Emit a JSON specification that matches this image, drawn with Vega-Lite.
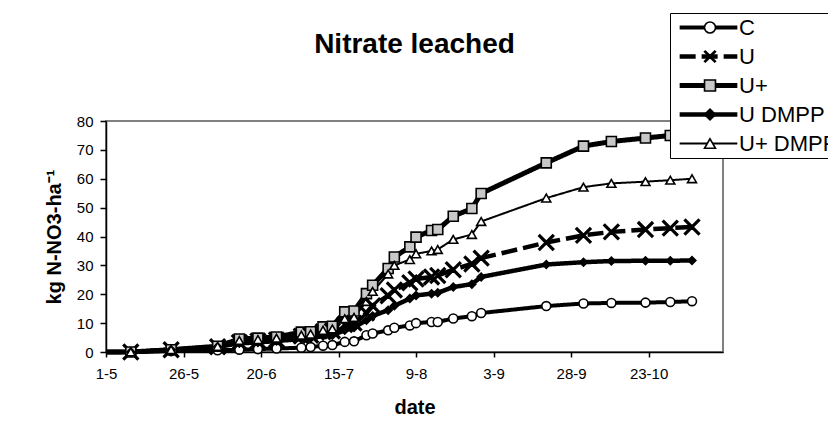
{
  "$schema": "https://vega.github.io/schema/vega-lite/v6.json",
  "width": 617,
  "height": 231,
  "autosize": {"type": "none"},
  "padding": {"left": 106, "top": 121, "right": 105, "bottom": 89},
  "background": "white",
  "title": {"text": "Nitrate leached", "fontSize": 28, "fontWeight": "bold", "frame": "group", "anchor": "middle", "offset": -46, "color": "black"},
  "data": {"values": [
    {"date": "2003-05-01", "C": 0, "U": 0, "U+": 0, "U DMPP": 0, "U+ DMPP": 0},
    {"date": "2003-05-09", "C": 0, "U": 0, "U+": 0, "U DMPP": 0, "U+ DMPP": 0},
    {"date": "2003-05-22", "C": 0.3, "U": 0.8, "U+": 0.8, "U DMPP": 0.8, "U+ DMPP": 0.8},
    {"date": "2003-06-06", "C": 0.6, "U": 1.8, "U+": 2.0, "U DMPP": 1.8, "U+ DMPP": 1.9},
    {"date": "2003-06-13", "C": 0.8, "U": 3.3, "U+": 4.5, "U DMPP": 3.0, "U+ DMPP": 4.0},
    {"date": "2003-06-19", "C": 1.0, "U": 3.8, "U+": 4.8, "U DMPP": 3.3, "U+ DMPP": 4.3},
    {"date": "2003-06-25", "C": 1.2, "U": 4.2, "U+": 5.2, "U DMPP": 3.8, "U+ DMPP": 4.8},
    {"date": "2003-07-03", "C": 1.5, "U": 5.5, "U+": 6.9, "U DMPP": 4.5, "U+ DMPP": 5.8},
    {"date": "2003-07-06", "C": 1.7, "U": 5.8, "U+": 7.0, "U DMPP": 4.8, "U+ DMPP": 6.2},
    {"date": "2003-07-10", "C": 2.2, "U": 7.0, "U+": 8.7, "U DMPP": 5.5, "U+ DMPP": 7.5},
    {"date": "2003-07-13", "C": 2.4, "U": 7.3, "U+": 8.9, "U DMPP": 5.8, "U+ DMPP": 8.0},
    {"date": "2003-07-17", "C": 3.5, "U": 9.5, "U+": 13.9, "U DMPP": 7.5, "U+ DMPP": 11.5},
    {"date": "2003-07-20", "C": 3.7, "U": 10.0, "U+": 14.2, "U DMPP": 8.5, "U+ DMPP": 12.0},
    {"date": "2003-07-24", "C": 5.8, "U": 13.5, "U+": 20.2, "U DMPP": 11.0, "U+ DMPP": 17.5},
    {"date": "2003-07-26", "C": 6.4, "U": 16.0, "U+": 23.1, "U DMPP": 12.5, "U+ DMPP": 21.0},
    {"date": "2003-07-31", "C": 7.5, "U": 19.5, "U+": 28.9, "U DMPP": 14.5, "U+ DMPP": 27.0},
    {"date": "2003-08-02", "C": 8.4, "U": 21.5, "U+": 32.9, "U DMPP": 16.0, "U+ DMPP": 30.0},
    {"date": "2003-08-07", "C": 9.2, "U": 24.0, "U+": 36.4, "U DMPP": 18.5, "U+ DMPP": 32.0},
    {"date": "2003-08-09", "C": 10.0, "U": 25.3, "U+": 39.8, "U DMPP": 19.6, "U+ DMPP": 34.0},
    {"date": "2003-08-14", "C": 10.4, "U": 26.0, "U+": 42.1, "U DMPP": 20.2, "U+ DMPP": 35.0},
    {"date": "2003-08-16", "C": 10.4, "U": 26.5, "U+": 42.4, "U DMPP": 20.5, "U+ DMPP": 35.5},
    {"date": "2003-08-21", "C": 11.6, "U": 28.5, "U+": 47.0, "U DMPP": 22.5, "U+ DMPP": 39.0},
    {"date": "2003-08-27", "C": 12.4, "U": 30.5, "U+": 49.7, "U DMPP": 23.5, "U+ DMPP": 40.7},
    {"date": "2003-08-30", "C": 13.5, "U": 32.5, "U+": 54.9, "U DMPP": 26.0, "U+ DMPP": 45.2},
    {"date": "2003-09-20", "C": 15.9, "U": 37.9, "U+": 65.5, "U DMPP": 30.3, "U+ DMPP": 53.3},
    {"date": "2003-10-02", "C": 16.8, "U": 40.4, "U+": 71.3, "U DMPP": 31.1, "U+ DMPP": 57.1},
    {"date": "2003-10-11", "C": 17.0, "U": 41.6, "U+": 72.9, "U DMPP": 31.5, "U+ DMPP": 58.4},
    {"date": "2003-10-22", "C": 17.1, "U": 42.4, "U+": 74.1, "U DMPP": 31.6, "U+ DMPP": 59.0},
    {"date": "2003-10-30", "C": 17.3, "U": 42.9, "U+": 75.0, "U DMPP": 31.6, "U+ DMPP": 59.5},
    {"date": "2003-11-06", "C": 17.6, "U": 43.3, "U+": 75.6, "U DMPP": 31.7, "U+ DMPP": 60.0}
  ]},
  "transform": [{"fold": ["C", "U", "U+", "U DMPP", "U+ DMPP"], "as": ["series", "value"]}],
  "encoding": {
    "x": {
      "field": "date", "type": "temporal",
      "scale": {"type": "utc", "domain": [{"year": 2003, "month": 5, "date": 1, "utc": true}, {"year": 2003, "month": 11, "date": 16, "utc": true}]},
      "axis": {
        "title": "date",
        "labelExpr": "utcFormat(datum.value, '%-d-%-m')",
        "values": [
          {"year": 2003, "month": 5, "date": 1, "utc": true},
          {"year": 2003, "month": 5, "date": 26, "utc": true},
          {"year": 2003, "month": 6, "date": 20, "utc": true},
          {"year": 2003, "month": 7, "date": 15, "utc": true},
          {"year": 2003, "month": 8, "date": 9, "utc": true},
          {"year": 2003, "month": 9, "date": 3, "utc": true},
          {"year": 2003, "month": 9, "date": 28, "utc": true},
          {"year": 2003, "month": 10, "date": 23, "utc": true}
        ],
        "labelFontSize": 15, "tickSize": 5, "labelPadding": 9, "labelFlush": false, "labelOverlap": false,
        "titleFontSize": 20, "titleFontWeight": "bold", "titlePadding": 16
      }
    },
    "y": {
      "field": "value", "type": "quantitative",
      "scale": {"domain": [0, 80], "nice": false},
      "axis": {
        "title": "kg N-NO3-ha⁻¹", "values": [0, 10, 20, 30, 40, 50, 60, 70, 80],
        "labelFontSize": 15, "tickSize": 6, "labelPadding": 7,
        "titleFontSize": 20, "titleFontWeight": "bold", "titlePadding": 12
      }
    }
  },
  "layer": [
    {
      "mark": {"type": "line", "stroke": "black", "strokeCap": "butt"},
      "encoding": {
        "strokeDash": {
          "field": "series", "type": "nominal",
          "scale": {"domain": ["C", "U", "U+", "U DMPP", "U+ DMPP"], "range": [[1, 0], [16, 6], [1, 0], [1, 0], [1, 0]]},
          "legend": {
            "orient": "none", "legendX": 564, "legendY": -108, "title": null, "columns": 1,
            "symbolType": "stroke", "symbolSize": 3330, "symbolStrokeColor": "black", "symbolOffset": 6,
            "labelExpr": "''", "labelFontSize": 22, "labelOffset": 100,
            "clipHeight": 27, "rowPadding": 2, "padding": 1, "fillColor": "white", "strokeColor": "black",
            "encode": {"symbols": {"update": {"strokeWidth": {"scale": "strokeWidth", "field": "value"}}}}
          }
        },
        "strokeWidth": {
          "field": "series", "type": "nominal",
          "scale": {"type": "ordinal", "domain": ["C", "U", "U+", "U DMPP", "U+ DMPP"], "range": [4, 4.5, 5, 4.5, 2]},
          "legend": null
        }
      }
    },
    {
      "transform": [{"filter": "time(datum.date) > utc(2003, 4, 2)"}],
      "mark": {"type": "point", "filled": true, "stroke": "black", "strokeWidth": 1.6, "opacity": 1},
      "encoding": {
        "shape": {
          "field": "series", "type": "nominal", "sort": ["C", "U", "U+", "U DMPP", "U+ DMPP"],
          "scale": {"range": ["circle", "M-1,-0.85L-0.85,-1L0,-0.15L0.85,-1L1,-0.85L0.15,0L1,0.85L0.85,1L0,0.15L-0.85,1L-1,0.85L-0.15,0Z", "square", "diamond", "triangle-up"]},
          "legend": {
            "orient": "none", "legendX": 564, "legendY": -108, "title": null, "columns": 1,
            "symbolSize": 120, "symbolFillColor": {"expr": "scale('fill', datum.value)"}, "symbolStrokeColor": "black", "symbolStrokeWidth": 1.6, "symbolOffset": 28,
            "labelFontSize": 22, "labelColor": "black", "labelOffset": 18,
            "clipHeight": 27, "rowPadding": 2, "padding": 1,
            "encode": {"symbols": {
              "size": {"value": {"signal": "scale('size', datum.value)"}},
              "opacity": {"value": 1}
            }}
          }
        },
        "fill": {
          "field": "series", "type": "nominal", "sort": ["C", "U", "U+", "U DMPP", "U+ DMPP"],
          "scale": {"range": ["white", "black", "#c8c8c8", "black", "white"]},
          "legend": null
        },
        "size": {
          "field": "series", "type": "nominal", "sort": ["C", "U", "U+", "U DMPP", "U+ DMPP"],
          "scale": {"type": "ordinal", "range": [80, 230, 100, 60, 80]},
          "legend": null
        }
      }
    }
  ],
  "config": {
    "font": "Liberation Sans",
    "view": {"stroke": "#808080", "strokeWidth": 2},
    "axis": {"domainColor": "black", "tickColor": "black", "labelColor": "black", "titleColor": "black", "grid": false, "domainWidth": 1.5, "tickWidth": 1.5}
  }
}
